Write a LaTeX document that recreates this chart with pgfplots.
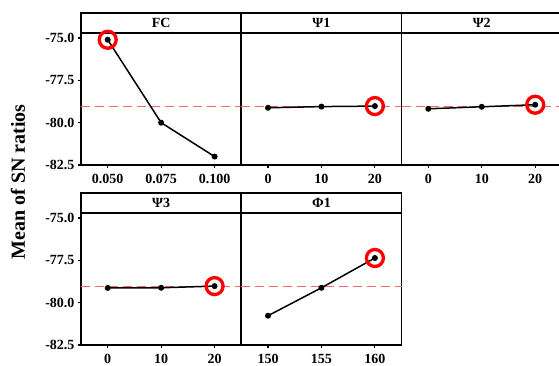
\documentclass[border=0pt]{standalone}
\usepackage{fontspec}
\setmainfont{Liberation Serif}
\usepackage{pgfplots}
\pgfplotsset{compat=1.18}
\definecolor{meanred}{RGB}{245,105,105}
\pgfplotsset{
  panel/.style={
    scale only axis, width=160.3pt, height=152pt,
    ymin=-82.5, ymax=-73.52,
    axis line style={line width=1.7pt},
    tick align=outside, major tick length=3pt,
    tick style={line width=1.2pt, black},
    xtick pos=left, ytick pos=left,
    tick label style={font=\bfseries\fontsize{14}{14}\selectfont},
    xticklabel style={yshift=-3pt},
    clip=false,
  },
  leftpanel/.style={ytick={-82.5,-80,-77.5,-75}, yticklabels={-82.5,-80.0,-77.5,-75.0}},
  innerpanel/.style={ytick=\empty},
  series/.style={black, line width=1.5pt, mark=*, mark size=2.2pt},
  best/.style={red, line width=3.3pt, mark=o, mark size=8.5pt, only marks},
  meanline/.style={meanred, line width=1.3pt, dash pattern=on 9pt off 5pt},
}
\newcommand{\strip}[1]{%
  \draw[line width=1.7pt] (rel axis cs:0,0.8684) -- (rel axis cs:1,0.8684);
  \node[font=\bfseries\fontsize{14}{14}\selectfont] at (rel axis cs:0.5,0.934) {#1};}
\begin{document}
\begin{tikzpicture}
% FC
\begin{axis}[panel, leftpanel, at={(81pt,201pt)}, anchor=south west,
  xmin=0.0375, xmax=0.1125, xtick={0.05,0.075,0.1}, xticklabels={0.050,0.075,0.100}]
\addplot[meanline] coordinates {(0.0375,-79.06) (0.1125,-79.06)};
\addplot[series] coordinates {(0.05,-75.1) (0.075,-80.0) (0.1,-82.0)};
\addplot[best] coordinates {(0.05,-75.1)};
\strip{FC}
\end{axis}
% Psi1
\begin{axis}[panel, innerpanel, at={(241.3pt,201pt)}, anchor=south west,
  xmin=-5, xmax=25, xtick={0,10,20}, xticklabels={0,10,20}]
\addplot[meanline] coordinates {(-5,-79.06) (25,-79.06)};
\addplot[series] coordinates {(0,-79.12) (10,-79.05) (20,-79.02)};
\addplot[best] coordinates {(20,-79.02)};
\strip{Ψ1}
\end{axis}
% Psi2
\begin{axis}[panel, innerpanel, at={(401.6pt,201pt)}, anchor=south west,
  xmin=-5, xmax=25, xtick={0,10,20}, xticklabels={0,10,20}]
\addplot[meanline] coordinates {(-5,-79.06) (25,-79.06)};
\addplot[series] coordinates {(0,-79.18) (10,-79.06) (20,-78.94)};
\addplot[best] coordinates {(20,-78.94)};
\strip{Ψ2}
\end{axis}
% Psi3
\begin{axis}[panel, leftpanel, at={(81pt,21pt)}, anchor=south west,
  xmin=-5, xmax=25, xtick={0,10,20}, xticklabels={0,10,20}]
\addplot[meanline] coordinates {(-5,-79.06) (25,-79.06)};
\addplot[series] coordinates {(0,-79.13) (10,-79.12) (20,-79.02)};
\addplot[best] coordinates {(20,-79.02)};
\strip{Ψ3}
\end{axis}
% Phi1
\begin{axis}[panel, innerpanel, at={(241.3pt,21pt)}, anchor=south west,
  xmin=147.5, xmax=162.5, xtick={150,155,160}, xticklabels={150,155,160}]
\addplot[meanline] coordinates {(147.5,-79.06) (162.5,-79.06)};
\addplot[series] coordinates {(150,-80.77) (155,-79.12) (160,-77.36)};
\addplot[best] coordinates {(160,-77.36)};
\strip{Φ1}
\end{axis}
\node[rotate=90, font=\bfseries\fontsize{20}{20}\selectfont] at (18pt,184pt) {Mean of SN ratios};
\pgfresetboundingbox
\path[use as bounding box] (0,0) rectangle (559pt,366pt);
\end{tikzpicture}
\end{document}
